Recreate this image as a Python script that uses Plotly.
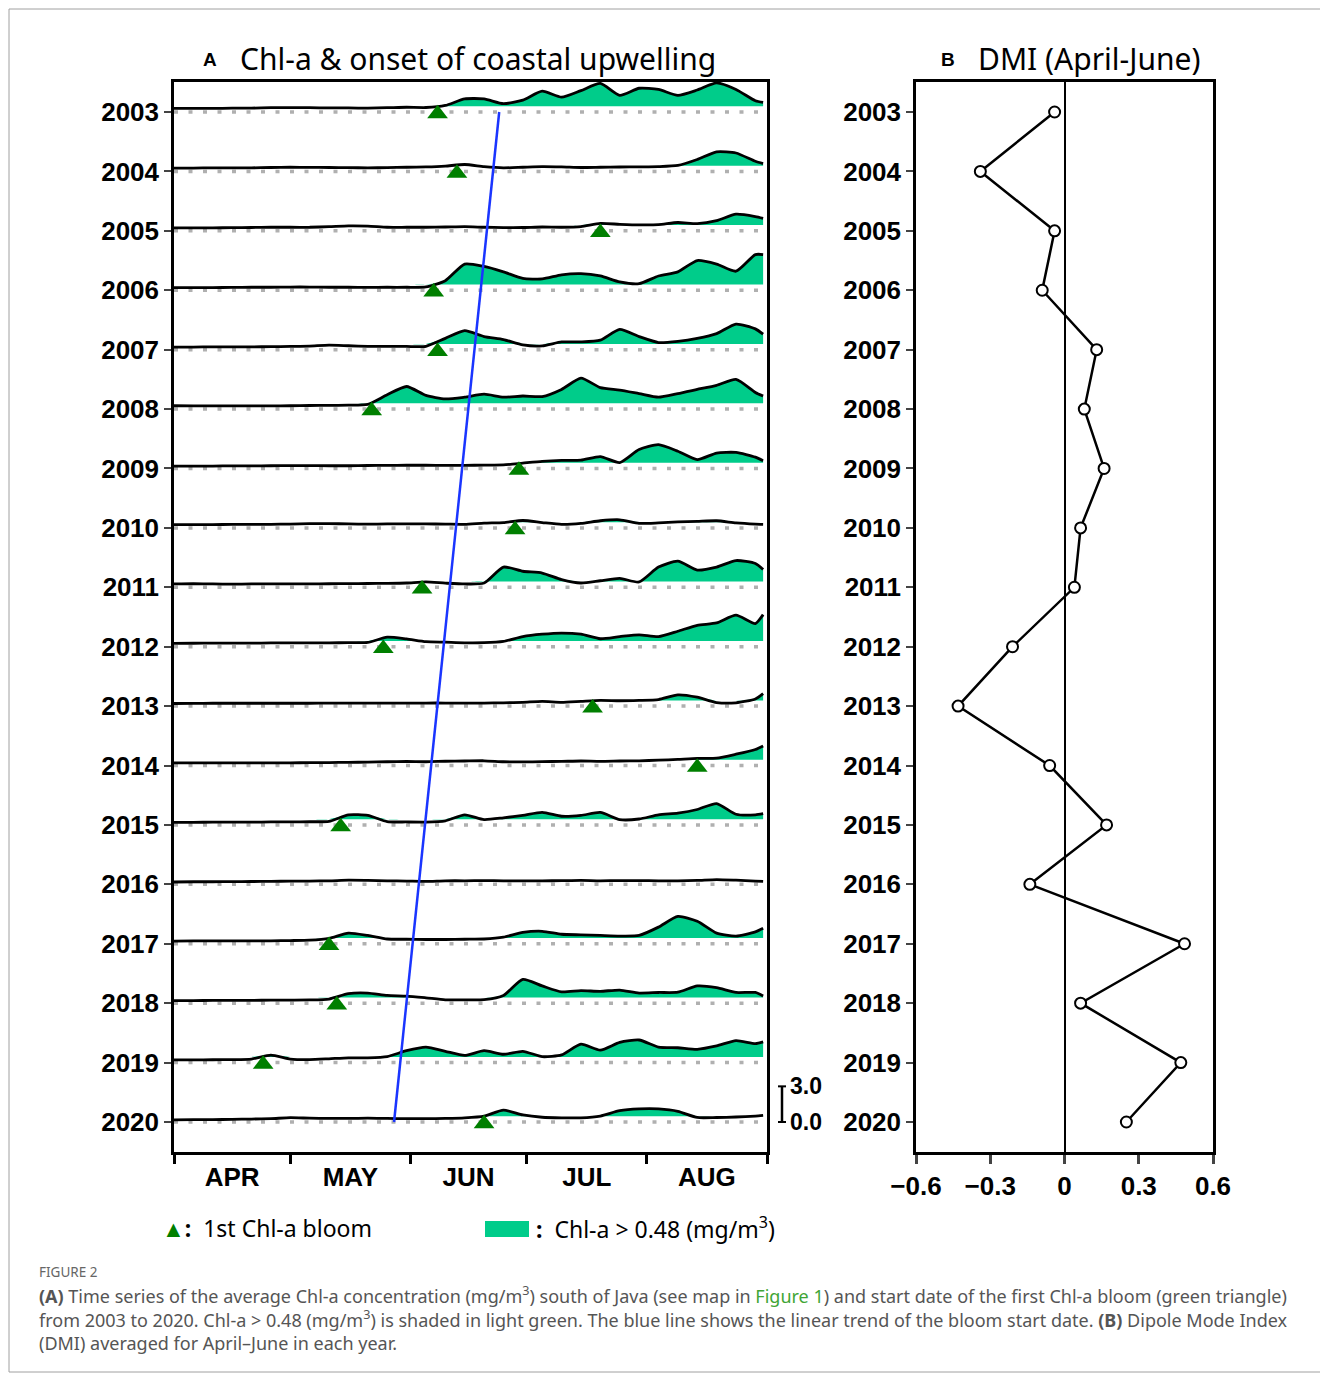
import numpy as np
import plotly.graph_objects as go

# ---------------- data ----------------
YEARS = list(range(2003, 2021))
DAYS = list(range(0, 151, 5)) + [152]          # days since 1 April
MONTHS = ["APR", "MAY", "JUN", "JUL", "AUG"]
MONTH_LEN = [30, 31, 30, 31, 31]
THRESHOLD = 0.48
CLIP = 3.0
ROW_GAP = 5.0

chl_2003 = [0.30,0.30,0.30,0.32,0.33,0.36,0.37,0.36,0.35,0.34,0.33,0.36,0.40,0.38,0.55,1.10,1.10,0.70,1.00,1.75,1.25,1.80,2.40,1.40,2.00,1.90,1.40,1.85,2.45,1.90,0.95,0.80]
chl_2004 = [0.28,0.28,0.30,0.30,0.30,0.33,0.35,0.34,0.33,0.32,0.30,0.32,0.35,0.38,0.45,0.58,0.40,0.30,0.35,0.40,0.38,0.33,0.35,0.37,0.38,0.40,0.50,1.00,1.65,1.55,0.85,0.65]
chl_2005 = [0.25,0.25,0.25,0.27,0.28,0.30,0.30,0.30,0.35,0.42,0.40,0.30,0.30,0.30,0.32,0.35,0.30,0.27,0.28,0.32,0.30,0.35,0.62,0.55,0.50,0.52,0.70,0.60,0.85,1.40,1.20,1.05]
chl_2006 = [0.22,0.22,0.22,0.24,0.25,0.25,0.27,0.27,0.25,0.25,0.24,0.25,0.25,0.28,0.80,2.20,2.00,1.55,1.00,0.95,1.30,1.40,1.20,0.70,0.55,1.20,1.55,2.50,2.20,1.60,3.30,3.60]
chl_2007 = [0.22,0.22,0.23,0.24,0.24,0.25,0.27,0.30,0.38,0.33,0.28,0.27,0.27,0.28,0.95,1.60,1.10,0.85,0.40,0.32,0.65,0.65,0.80,1.70,1.10,0.60,0.70,0.95,1.35,2.15,1.75,1.30]
chl_2008 = [0.28,0.27,0.27,0.27,0.26,0.27,0.28,0.30,0.31,0.33,0.40,1.20,1.90,1.15,0.85,1.00,1.25,1.00,1.10,1.05,1.65,2.60,1.80,1.60,1.30,1.00,1.30,1.65,2.00,2.50,1.40,1.10]
chl_2009 = [0.20,0.20,0.20,0.22,0.22,0.23,0.24,0.24,0.23,0.23,0.25,0.26,0.27,0.27,0.26,0.26,0.28,0.30,0.45,0.60,0.68,0.70,1.00,0.50,1.60,2.00,1.45,0.75,1.30,1.35,0.95,0.65]
chl_2010 = [0.28,0.28,0.28,0.29,0.30,0.30,0.32,0.35,0.36,0.33,0.32,0.33,0.34,0.33,0.32,0.30,0.40,0.45,0.62,0.45,0.30,0.38,0.60,0.68,0.38,0.42,0.50,0.55,0.60,0.42,0.32,0.30]
chl_2011 = [0.28,0.30,0.28,0.27,0.28,0.28,0.28,0.29,0.30,0.31,0.32,0.33,0.36,0.45,0.35,0.28,0.36,1.70,1.35,1.20,0.65,0.36,0.55,0.75,0.45,1.70,2.20,1.45,1.70,2.25,2.00,1.50]
chl_2012 = [0.28,0.29,0.30,0.30,0.30,0.32,0.33,0.33,0.33,0.34,0.36,0.80,0.65,0.42,0.38,0.33,0.34,0.45,0.85,1.05,1.15,1.05,0.67,0.85,1.00,0.85,1.30,1.80,2.00,2.65,1.95,2.70]
chl_2013 = [0.22,0.23,0.24,0.24,0.24,0.24,0.24,0.24,0.25,0.25,0.25,0.25,0.25,0.26,0.26,0.25,0.26,0.28,0.32,0.40,0.32,0.40,0.48,0.45,0.48,0.55,0.95,0.75,0.30,0.28,0.60,1.05]
chl_2014 = [0.22,0.22,0.23,0.23,0.23,0.22,0.23,0.24,0.25,0.27,0.28,0.32,0.34,0.32,0.36,0.38,0.40,0.32,0.30,0.33,0.35,0.38,0.35,0.38,0.40,0.45,0.52,0.60,0.62,0.95,1.35,1.65]
chl_2015 = [0.22,0.22,0.23,0.23,0.24,0.25,0.26,0.27,0.30,0.85,0.80,0.28,0.25,0.24,0.35,0.85,0.45,0.60,0.80,1.05,0.73,0.80,1.05,0.45,0.50,0.85,1.00,1.30,1.80,0.90,0.85,0.95]
chl_2016 = [0.20,0.22,0.22,0.23,0.24,0.25,0.27,0.28,0.30,0.35,0.33,0.30,0.28,0.25,0.30,0.30,0.32,0.30,0.30,0.30,0.31,0.33,0.30,0.32,0.32,0.30,0.30,0.33,0.40,0.35,0.28,0.25]
chl_2017 = [0.22,0.24,0.24,0.24,0.25,0.25,0.27,0.30,0.45,0.90,0.70,0.40,0.38,0.36,0.36,0.38,0.40,0.55,0.95,1.05,0.80,0.75,0.70,0.65,0.70,1.40,2.30,1.90,0.90,0.65,1.00,1.30]
chl_2018 = [0.22,0.22,0.23,0.23,0.24,0.25,0.26,0.27,0.35,0.80,0.85,0.65,0.60,0.45,0.28,0.28,0.30,0.65,2.00,1.45,0.95,1.05,1.00,1.10,0.85,0.90,0.92,1.45,1.30,0.90,0.90,0.60]
chl_2019 = [0.22,0.23,0.24,0.25,0.30,0.62,0.30,0.25,0.32,0.40,0.40,0.50,1.00,1.30,0.95,0.60,1.00,0.70,0.95,0.50,0.65,1.55,1.05,1.70,1.90,1.30,1.25,1.12,1.40,1.85,1.60,1.75]
chl_2020 = [0.18,0.20,0.20,0.22,0.25,0.28,0.36,0.32,0.30,0.30,0.32,0.30,0.28,0.28,0.30,0.35,0.50,1.00,0.60,0.40,0.35,0.35,0.50,0.95,1.10,1.10,0.90,0.38,0.38,0.42,0.50,0.55]

# first bloom day (days since 1 April); 2016 has none
BLOOM_DAY = [68, 73, 110, 67, 68, 51, 89, 88, 64, 54, 108, 135, 43, None, 40, 42, 23, 80]
# Dipole Mode Index averaged April-June
DMI = [-0.04, -0.34, -0.04, -0.09, 0.13, 0.08, 0.16, 0.065, 0.04, -0.21, -0.43, -0.06,
       0.17, -0.14, 0.485, 0.065, 0.47, 0.25]
DMI_TICKS = [-0.6, -0.3, 0, 0.3, 0.6]
DMI_TICKTEXT = ["\u22120.6", "\u22120.3", "0", "0.3", "0.6"]

CHL = [chl_2003, chl_2004, chl_2005, chl_2006, chl_2007, chl_2008, chl_2009, chl_2010, chl_2011,
       chl_2012, chl_2013, chl_2014, chl_2015, chl_2016, chl_2017, chl_2018, chl_2019, chl_2020]

# ---------------- styling ----------------
PAGE_OFF = 8                      # default body margin of the html page
W, H = 1328 - PAGE_OFF, 1376 - PAGE_OFF
GREEN_FILL = "#00cc8a"
TRI_GREEN = "#007f00"
TICKFAMILY = "Liberation Sans, Arial, sans-serif"
TEXTFONT = "Noto Sans, Open Sans, sans-serif"


def px(x):
    return (x - PAGE_OFF) / W


def py(y):
    return 1 - (y - PAGE_OFF) / H


offsets = [(YEARS[-1] - y) * ROW_GAP for y in YEARS]
month_edges = list(np.cumsum([0] + MONTH_LEN))
month_mids = [(month_edges[i] + month_edges[i + 1]) / 2 for i in range(len(MONTHS))]
total_days = month_edges[-1]

fig = go.Figure()

# dotted zero lines
dx, dy = [], []
for off in offsets:
    dx += [0, total_days, None]
    dy += [off, off, None]
fig.add_trace(go.Scatter(x=dx, y=dy, mode="lines", hoverinfo="skip",
                         line=dict(color="#b0b0b0", width=3.5, dash="4px,10.5px"),
                         xaxis="x", yaxis="y", showlegend=False))

days = np.array(DAYS, dtype=float)
for off, vals in zip(offsets, CHL):
    v = np.array(vals, dtype=float)
    base = np.full_like(v, THRESHOLD) + off
    top = np.clip(np.maximum(v, THRESHOLD), None, CLIP) + off
    fig.add_trace(go.Scatter(x=days, y=base, mode="lines", line=dict(width=0, color=GREEN_FILL),
                             hoverinfo="skip", showlegend=False, xaxis="x", yaxis="y"))
    fig.add_trace(go.Scatter(x=days, y=top, mode="lines", fill="tonexty", fillcolor=GREEN_FILL,
                             line=dict(width=0, color=GREEN_FILL, shape="spline", smoothing=0.6),
                             hoverinfo="skip", showlegend=False, xaxis="x", yaxis="y"))
for off, vals in zip(offsets, CHL):
    v = np.minimum(np.array(vals, dtype=float), CLIP) + off
    fig.add_trace(go.Scatter(x=days, y=v, mode="lines",
                             line=dict(color="black", width=2.8, shape="spline", smoothing=0.6),
                             showlegend=False, xaxis="x", yaxis="y"))

# trend of bloom start date
yrs_b = np.array([y for y, d in zip(YEARS, BLOOM_DAY) if d is not None], dtype=float)
day_b = np.array([d for d in BLOOM_DAY if d is not None], dtype=float)
coef = np.polyfit(yrs_b, day_b, 1)
end_years = np.array([YEARS[0], YEARS[-1]], dtype=float)
fig.add_trace(go.Scatter(x=np.polyval(coef, end_years),
                         y=[(YEARS[-1] - y) * ROW_GAP for y in end_years],
                         mode="lines", line=dict(color="#1a35ff", width=2.5),
                         showlegend=False, xaxis="x", yaxis="y"))

# bloom triangles
bx = [d for d in BLOOM_DAY if d is not None]
by = [off - 0.15 for off, d in zip(offsets, BLOOM_DAY) if d is not None]
fig.add_trace(go.Scatter(x=bx, y=by, mode="markers",
                         marker=dict(symbol="triangle-up", size=18, color=TRI_GREEN),
                         showlegend=False, xaxis="x", yaxis="y"))

# DMI panel
fig.add_trace(go.Scatter(x=DMI, y=offsets, mode="lines+markers",
                         line=dict(color="black", width=2.5),
                         marker=dict(symbol="circle", size=11, color="white",
                                     line=dict(color="black", width=2)),
                         showlegend=False, xaxis="x2", yaxis="y2"))

yrange = [-30 / 11.882, offsets[0] + 30 / 11.882]
tickfont = dict(family=TICKFAMILY, size=26, color="black", weight="bold")

fig.update_layout(
    width=W, height=H, autosize=False,
    margin=dict(l=0, r=0, t=0, b=0, pad=0),
    paper_bgcolor="white", plot_bgcolor="white",
    xaxis=dict(domain=[px(174), px(767)], range=[0, total_days], automargin=False,
               tickvals=month_mids, ticktext=MONTHS, ticks="", tickfont=tickfont,
               minor=dict(tickvals=month_edges, ticks="outside", ticklen=9, tickwidth=2.5,
                          tickcolor="black"),
               showgrid=False, zeroline=False, showline=True, mirror=True,
               linecolor="black", linewidth=2.5, anchor="y"),
    yaxis=dict(domain=[py(1152), py(82)], range=yrange, automargin=False,
               tickvals=offsets, ticktext=[str(y) for y in YEARS], ticks="outside",
               ticklen=7, tickwidth=2, tickfont=tickfont, showgrid=False, zeroline=False,
               showline=True, mirror=True, linecolor="black", linewidth=2.5, anchor="x"),
    xaxis2=dict(domain=[px(916), px(1213)], range=[-0.6, 0.6], automargin=False,
                tickvals=DMI_TICKS, ticktext=DMI_TICKTEXT, ticks="outside", ticklen=9,
                tickwidth=2.5, tickfont=tickfont, showgrid=False,
                zeroline=True, zerolinecolor="black", zerolinewidth=2.2,
                showline=True, mirror=True, linecolor="black", linewidth=2.5, anchor="y2"),
    yaxis2=dict(domain=[py(1152), py(82)], range=yrange, automargin=False,
                tickvals=offsets, ticktext=[str(y) for y in YEARS], ticks="outside",
                ticklen=7, tickwidth=2, tickfont=tickfont, showgrid=False, zeroline=False,
                showline=True, mirror=True, linecolor="black", linewidth=2.5, anchor="x2"),
)


def note(x, y, text, font, xanchor="left", yref="paper"):
    yy = py(y) if yref == "paper" else y
    return dict(x=px(x), y=yy, xref="paper", yref=yref, xanchor=xanchor, yanchor="middle",
                text=text, showarrow=False, font=font)


ann = []
# panel titles
lab_font = dict(family="Liberation Sans, Arial", size=19, color="black")
title_font = dict(family=TEXTFONT, size=30, color="black")
ann.append(note(210, 60, "<b>A</b>", lab_font, xanchor="center"))
ann.append(note(238, 58, "Chl-a &amp; onset of coastal upwelling", title_font))
ann.append(note(948, 60, "<b>B</b>", lab_font, xanchor="center"))
ann.append(note(976, 58, "DMI (April-June)", title_font))

# scale bar labels (in panel A data units)
sb_font = dict(family=TICKFAMILY, size=23, color="black", weight="bold")
ann.append(note(788, CLIP, "3.0", sb_font, yref="y"))
ann.append(note(788, 0, "0.0", sb_font, yref="y"))

# legend
leg_font = dict(family=TEXTFONT, size=23, color="black")
ann.append(note(160, 1228, "<span style='color:%s'>\u25B2</span><b>:</b>  1st Chl-a bloom" % TRI_GREEN,
                leg_font))
ann.append(note(534, 1228, "<b>:</b>  Chl-a &gt; 0.48 (mg/m<sup>3</sup>)", leg_font))

# caption
cap_font = dict(family=TEXTFONT, size=18, color="#555555")
ann.append(note(37, 1272, "FIGURE 2", dict(family=TEXTFONT, size=13.5, color="#666666")))
cap_lines = [
    "<b>(A)</b> Time series of the average Chl-a concentration (mg/m<sup>3</sup>) south of Java (see map in "
    "<span style='color:#3fa535'>Figure 1</span>) and start date of the first Chl-a bloom (green triangle)",
    "from 2003 to 2020. Chl-a &gt; 0.48 (mg/m<sup>3</sup>) is shaded in light green. The blue line shows the "
    "linear trend of the bloom start date. <b>(B)</b> Dipole Mode Index",
    "(DMI) averaged for April\u2013June in each year.",
]
for i, t in enumerate(cap_lines):
    ann.append(note(37, 1295 + 24 * i, t, cap_font))
fig.update_layout(annotations=ann)

shapes = [
    # scale bar
    dict(type="line", xref="paper", yref="y", x0=px(782), x1=px(782), y0=0, y1=CLIP,
         line=dict(color="black", width=2.5)),
    dict(type="line", xref="paper", yref="y", x0=px(778), x1=px(786), y0=0, y1=0,
         line=dict(color="black", width=2)),
    dict(type="line", xref="paper", yref="y", x0=px(778), x1=px(786), y0=CLIP, y1=CLIP,
         line=dict(color="black", width=2)),
    # legend swatch
    dict(type="rect", xref="paper", yref="paper", x0=px(485), x1=px(529), y0=py(1237), y1=py(1221),
         fillcolor=GREEN_FILL, line=dict(width=0)),
    # outer frame
    dict(type="rect", xref="paper", yref="paper", x0=px(9), x1=px(1325), y0=py(1372), y1=py(9),
         line=dict(color="#a0a0a0", width=1)),
]
fig.update_layout(shapes=shapes)

fig.write_html("out.html")
